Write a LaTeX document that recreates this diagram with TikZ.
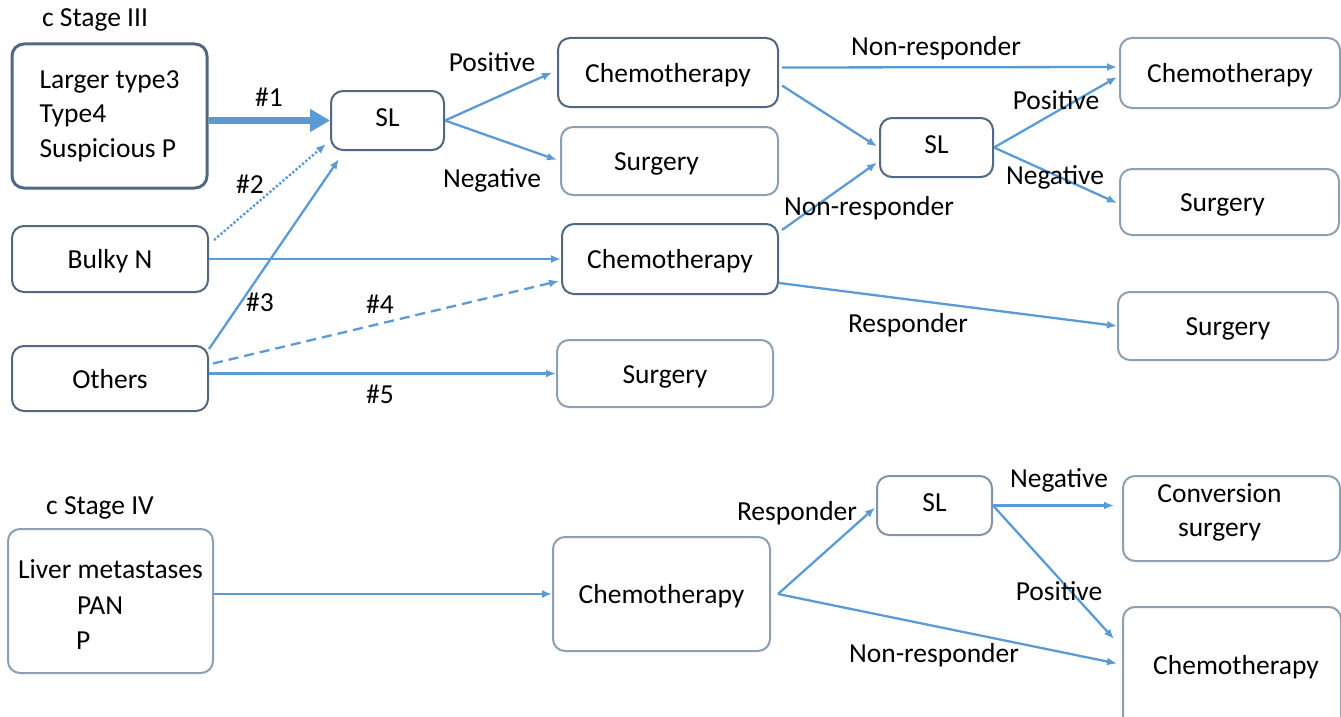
\documentclass[tikz,border=0pt]{standalone}
\usepackage{fontspec}
\setmainfont{Carlito}
\usetikzlibrary{calc,arrows.meta}
\definecolor{arrc}{RGB}{91,155,213}
\definecolor{darkb}{RGB}{80,104,130}
\definecolor{lightb}{RGB}{140,160,180}
\tikzset{
  bx/.style={draw=darkb, line width=2pt, rounded corners=12pt, inner sep=0pt, fill=white},
  box/.style={bx, text height=26pt, text depth=7pt},
  slbox/.style={bx, text height=18pt, text depth=7pt},
  lbox/.style={box, draw=lightb},
  lbl/.style={inner sep=0pt, text=black},
  arr/.style={draw=arrc, line width=2.3pt, -{Latex[length=10pt,width=8pt]}},
}
\begin{document}
\begin{tikzpicture}[x=1pt,y=-1pt, font=\fontsize{27.5}{34.5}\selectfont]
\clip (0,0) rectangle (1341,717);
\fill[white] (0,0) rectangle (1341,717);
% Stage III
\node[lbl] (t3) at (95,20) {c Stage III};
\node[bx, line width=3pt, minimum width=195, minimum height=144, align=left] (A) at (109.5,116)
  {\begin{tabular}{@{}l@{}}Larger type3\\Type4\\Suspicious P\end{tabular}};
\node[slbox, minimum width=113, minimum height=59] (SL1) at (387.5,120.5) {SL};
\node[box, minimum width=196, minimum height=66] (Bulky) at (110,259) {Bulky N};
\node[box, minimum width=196, minimum height=65] (Others) at (110,378.5) {Others};
\node[box, minimum width=220, minimum height=69] (C1) at (668,72.5) {Chemotherapy};
\node[lbox, minimum width=217, minimum height=68] (S1) at (669.5,161) {\hspace*{-26pt}Surgery};
\node[box, minimum width=216, minimum height=70] (C2) at (670,259) {Chemotherapy};
\node[lbox, minimum width=216, minimum height=67] (S2) at (665,373.5) {Surgery};
\node[slbox, minimum width=113, minimum height=59] (SL2) at (936.5,147.5) {SL};
\node[lbox, minimum width=220, minimum height=70] (CR1) at (1230,73) {Chemotherapy};
\node[lbox, minimum width=219, minimum height=66] (SR1) at (1229.5,202) {\hspace*{-14pt}Surgery};
\node[lbox, minimum width=220, minimum height=68] (SR2) at (1228,326) {Surgery};
% Stage IV
\node[lbl] (t4) at (100,508) {c Stage IV};
\node[bx, draw=lightb, minimum width=205, minimum height=144, text height=0pt, text depth=46pt] (L) at (110.5,601)
  {\begin{tabular}[t]{@{}l@{}}Liver metastases\\[2pt]\hspace*{59pt}PAN\\\hspace*{58pt}P\end{tabular}};
\node[lbox, minimum width=217, minimum height=114] (C3) at (661.5,594) {Chemotherapy};
\node[slbox, draw=lightb!80!darkb, minimum width=115, minimum height=59] (SL3) at (934.5,505.5) {SL};
\node[bx, draw=lightb, minimum width=217, minimum height=85, text height=0pt, text depth=33pt] (CS) at (1231.5,518.5)
  {\hspace*{-24pt}\begin{tabular}[t]{@{}c@{}}Conversion\\surgery\end{tabular}};
\node[slbox, draw=lightb, minimum width=218, minimum height=123] (CB) at (1232,668.5) {\hspace*{8pt}Chemotherapy};
% Stage III connectors
\draw[arr, line width=7pt, -{Triangle[length=20pt,width=22pt]}] (A.east |- SL1.west) -- (SL1.west);
\draw[arr, dotted, line width=2.4pt] ($(Bulky.east)+(5,-19)$) -- ($(SL1.south west)+(-4,-7)$);
\draw[arr] ($(Others.north east)+(0,4)$) -- ($(SL1.south west)+(9,8)$);
\draw[arr, dash pattern=on 10pt off 6pt] ($(Others.east)+(4,-15)$) -- ($(C2.west)+(-2,22)$);
\draw[arr] (Others.east |- S2.west) -- (S2.west);
\draw[arr] (Bulky.east) -- (C2.west);
\draw[arr] (SL1.east) -- ($(C1.west)+(-5,0)$);
\draw[arr] (SL1.east) -- ($(S1.west)+(-3,-1)$);
\draw[arr] ($(C1.east)+(3,-5)$) -- ($(CR1.west)+(-2,-6)$);
\draw[arr] ($(C1.east)+(3,13)$) -- ($(SL2.west)+(-2,-1)$);
\draw[arr] ($(C2.east)+(3,-29)$) -- ($(SL2.west)+(-2,15)$);
\draw[arr] ($(C2.east)+(0,24)$) -- ($(SR2.west)+(0,0)$);
\draw[arr] (SL2.east) -- ($(CR1.west)+(-2,4)$);
\draw[arr] (SL2.east) -- ($(SR1.west)+(-2,1)$);
% Stage IV connectors
\draw[arr] (L.east |- C3.west) -- (C3.west);
\draw[arr] ($(C3.east)+(7,0)$) -- ($(SL3.west)+(-1,2)$);
\draw[arr] ($(C3.east)+(7,0)$) -- ($(CB.west)+(-5,-5)$);
\draw[arr] (SL3.east) -- ($(CS.west |- SL3.east)+(-8,0)$);
\draw[arr] (SL3.east) -- ($(CB.north west)+(-8,33)$);
% labels
\node[lbl] (n1) at (269,97) {\#1};
\node[lbl] (n2) at (250,184) {\#2};
\node[lbl] (n3) at (260,302) {\#3};
\node[lbl] (n4) at (380,304) {\#4};
\node[lbl] (n5) at (380,394) {\#5};
\node[lbl] (p1) at (492,62) {Positive};
\node[lbl] (g1) at (492,180) {Negative};
\node[lbl] (nr1) at (936,48) {Non-responder};
\node[lbl] (nr2) at (869,208) {Non-responder};
\node[lbl] (r1) at (908,325) {Responder};
\node[lbl] (p2) at (1056,100) {Positive};
\node[lbl] (g2) at (1055,177) {Negative};
\node[lbl] (r2) at (797,513) {Responder};
\node[lbl] (nr3) at (934,655) {Non-responder};
\node[lbl] (g3) at (1059,480) {Negative};
\node[lbl] (p3) at (1059,591) {Positive};
\end{tikzpicture}
\end{document}
